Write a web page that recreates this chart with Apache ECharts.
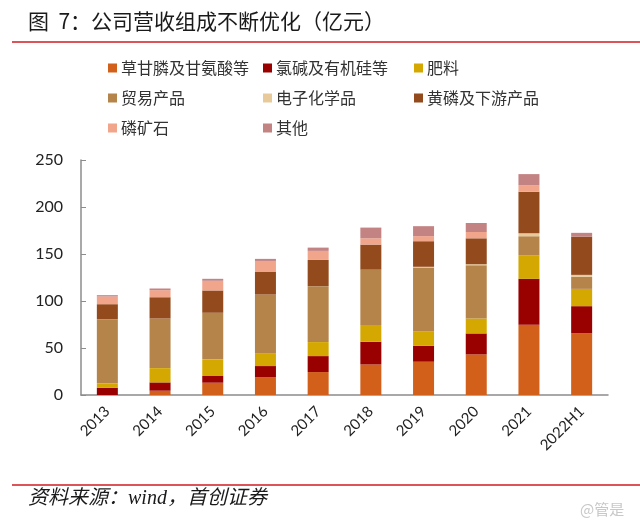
<!DOCTYPE html>
<html>
<head>
<meta charset="utf-8">
<script src="https://cdn.jsdelivr.net/npm/echarts@6/dist/echarts.min.js"></script>
<style>html,body{margin:0;padding:0;background:#fff;}#c{width:640px;height:531px;}</style>
</head>
<body>
<div id="c"></div>
<script>
const categories = ['2013','2014','2015','2016','2017','2018','2019','2020','2021','2022H1'];
const seriesNames = ['草甘膦及甘氨酸等','氯碱及有机硅等','肥料','贸易产品','电子化学品','黄磷及下游产品','磷矿石','其他'];
const glyphosate = [0, 4.6, 13.1, 19.1, 24.4, 32.5, 35.4, 43.2, 74.7, 65.5];
const chlorAlkali = [7.8, 8.8, 7.1, 11.7, 17.0, 24.1, 17.0, 22.3, 48.9, 29.0];
const fertilizer = [4.6, 15.2, 17.7, 13.8, 14.9, 18.0, 15.2, 15.9, 25.1, 18.4];
const trade = [68.3, 52.8, 49.6, 62.3, 59.5, 58.8, 68.0, 56.7, 20.2, 12.8];
const electronic = [0, 0, 0, 0, 0, 0, 0.8, 1.0, 3.2, 2.1];
const yellowP = [15.9, 22.6, 23.7, 24.4, 27.9, 26.6, 27.2, 27.6, 44.2, 40.7];
const phosRock = [8.2, 7.5, 10.3, 11.3, 9.6, 6.7, 5.4, 6.7, 6.7, 0];
const others = [1.4, 1.8, 2.1, 2.2, 3.5, 11.4, 10.6, 9.6, 12.0, 4.0];
const yTicks = [0, 50, 100, 150, 200, 250];

const seriesData = [glyphosate, chlorAlkali, fertilizer, trade, electronic, yellowP, phosRock, others];
const colors = ['#D2601A','#990000','#D4A800','#B5844A','#E8CA9A','#934A1C','#F1A58B','#C48383'];

const chart = echarts.init(document.getElementById('c'), null, {renderer: 'canvas'});
const cjk = '"Noto Sans CJK SC", sans-serif';
function legendCol(left, names) {
  return {
    orient: 'vertical', left: left, top: 55, itemWidth: 9, itemHeight: 9, itemGap: 14,
    icon: 'rect', selectedMode: false, data: names,
    textStyle: {fontFamily: cjk, fontSize: 16, color: '#333', lineHeight: 16, padding: [0,0,0,-1]}
  };
}
const option = {
  animation: false,
  color: colors,
  legend: [
    legendCol(103, [seriesNames[0], seriesNames[3], seriesNames[6]]),
    legendCol(258, [seriesNames[1], seriesNames[4], seriesNames[7]]),
    legendCol(409, [seriesNames[2], seriesNames[5]])
  ],
  grid: {left: 81, right: 32, top: 160, bottom: 136},
  xAxis: {
    type: 'category', data: categories,
    axisLine: {lineStyle: {color: '#8c8c8c', width: 1.5}},
    axisTick: {inside: true, length: 6, lineStyle: {color: '#8c8c8c', width: 1.5}},
    axisLabel: {rotate: 45, margin: 14, fontFamily: 'Lato, sans-serif', fontSize: 15, color: '#222'}
  },
  yAxis: {
    type: 'value', min: 0, max: 250, interval: 50,
    axisLine: {show: true, lineStyle: {color: '#8c8c8c', width: 1.5}},
    axisTick: {show: true, inside: true, length: 5, lineStyle: {color: '#8c8c8c'}},
    splitLine: {show: false},
    axisLabel: {margin: 18, fontFamily: 'Lato, sans-serif', fontSize: 16, color: '#222',
      formatter: v => yTicks.includes(v) ? String(v) : ''}
  },
  series: seriesNames.map((n, i) => ({
    name: n, type: 'bar', stack: 'total', barWidth: 21, data: seriesData[i],
    itemStyle: {color: colors[i]}
  })),
  graphic: [
    {type: 'text', left: 28, top: 11, style: {text: '图  7：公司营收组成不断优化（亿元）', font: '21px "Noto Sans CJK SC"', fill: '#1a1a1a'}},
    {type: 'line', shape: {x1: 12, y1: 42, x2: 640, y2: 42}, style: {stroke: '#D01A22', lineWidth: 1.5}},
    {type: 'line', shape: {x1: 12, y1: 485, x2: 640, y2: 485}, style: {stroke: '#D01A22', lineWidth: 1.5}},
    {type: 'text', left: 28, top: 489, style: {text: '资料来源：wind，首创证券', font: 'italic 20px "Liberation Serif", "Noto Sans CJK SC"', fill: '#1a1a1a'}},
    {type: 'text', left: 580, top: 502, style: {text: '@管是', font: '15px "Noto Sans CJK SC"', fill: '#c8c8c8'}}
  ]
};
chart.setOption(option);
</script>
</body>
</html>
